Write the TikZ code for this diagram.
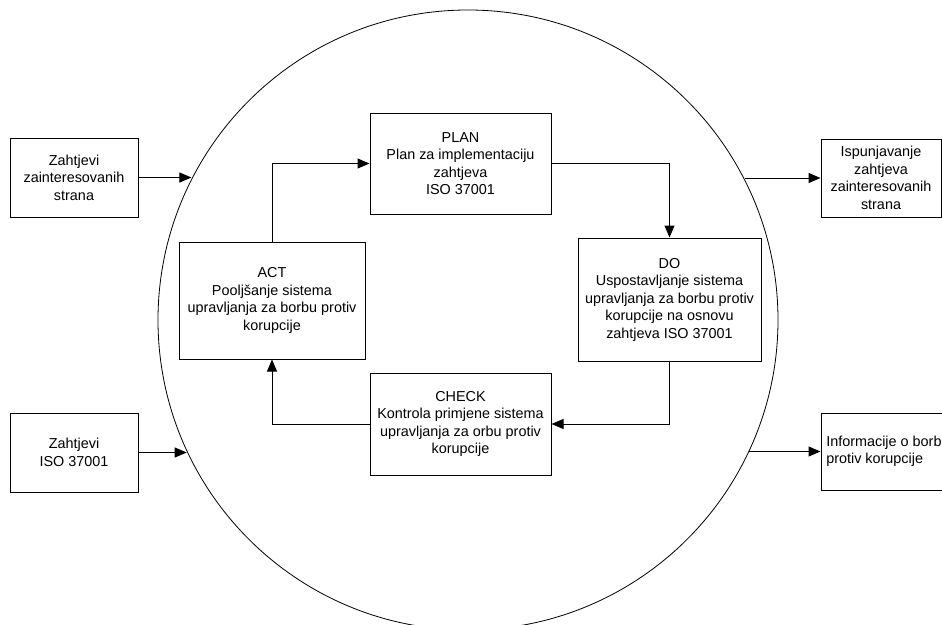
\documentclass[tikz,border=0pt]{standalone}
\usepackage{fontspec}
\setmainfont{Liberation Sans}
\usetikzlibrary{arrows.meta,positioning}

\begin{document}
\begin{tikzpicture}[x=1pt, y=-1pt, font=\fontsize{14.4}{17.5}\selectfont,
  >={Triangle[length=12pt, width=10pt]},
  blok/.style={draw, line width=1pt, align=center, inner sep=2pt},
  ulaz/.style={blok, minimum width=128pt, minimum height=79pt},
  faza/.style={blok, minimum width=181pt, minimum height=101pt},
  arr/.style={->, line width=1pt}]
  \path[use as bounding box, clip] (0,0) rectangle (942,624);
  \node[circle, draw, line width=0.8pt, minimum size=620pt, inner sep=0pt] (krug) at (468,320) {};
  \node[ulaz] (zahtjevi) at (74,177.5) {Zahtjevi\\zainteresovanih\\strana};
  \node[ulaz, below=195pt of zahtjevi] (iso) {Zahtjevi\\ISO 37001};
  \node[blok, minimum width=120pt, minimum height=78pt] (ispunj) at (881,178) {Ispunjavanje\\zahtjeva\\zainteresovanih\\strana};
  \node[blok, align=left, minimum width=129pt, minimum height=77pt, below right=195pt and 0pt of ispunj.south west] (info) {Informacije o borbi\\protiv korupcije};
  \node[faza] (plan) at (460.5,163.5) {PLAN\\Plan za implementaciju\\zahtjeva\\ISO 37001};
  \node[faza, minimum width=183pt, minimum height=123pt, below right=23pt and 26pt of plan] (uradi) {DO\\Uspostavljanje sistema\\upravljanja za borbu protiv\\korupcije na osnovu\\zahtjeva ISO 37001};
  \node[faza, minimum height=102pt, below=158pt of plan] (provjera) {CHECK\\Kontrola primjene sistema\\upravljanja za orbu protiv\\korupcije};
  \node[faza, minimum width=186pt, minimum height=117pt, below left=27pt and 4pt of plan] (djeluj) {ACT\\Pooljšanje sistema\\upravljanja za borbu protiv\\korupcije};
  \draw[arr] (zahtjevi.east) -- (zahtjevi.east -| krug.153);
  \draw[arr] (iso.east) -- (iso.east -| krug.205);
  \draw[arr] (ispunj.west -| krug.27) -- (ispunj.west);
  \draw[arr] (info.west -| krug.335) -- (info.west);
  \draw[arr] (plan.east) -| (uradi.north);
  \draw[arr] (uradi.south) |- (provjera.east);
  \draw[arr] (provjera.west) -| (djeluj.south);
  \draw[arr] (djeluj.north) |- (plan.west);
\end{tikzpicture}
\end{document}
